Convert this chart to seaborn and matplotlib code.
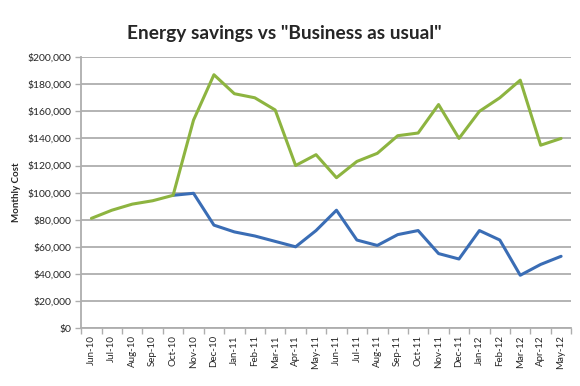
import matplotlib
matplotlib.use("Agg")
import matplotlib.pyplot as plt
import seaborn as sns
import pandas as pd
import numpy as np
from matplotlib.ticker import FuncFormatter, FixedLocator

months = ["Jun-10", "Jul-10", "Aug-10", "Sep-10", "Oct-10", "Nov-10", "Dec-10",
          "Jan-11", "Feb-11", "Mar-11", "Apr-11", "May-11", "Jun-11", "Jul-11",
          "Aug-11", "Sep-11", "Oct-11", "Nov-11", "Dec-11", "Jan-12", "Feb-12",
          "Mar-12", "Apr-12", "May-12"]
business_as_usual = [81000, 87000, 91500, 94000, 98000, 153500, 187000, 173000,
                     170000, 161000, 120000, 128000, 111000, 123000, 129000, 142000,
                     144000, 165000, 140000, 160000, 170000, 183000, 135000, 140000]
# first months coincide with "business as usual" (hidden under the green line)
energy_savings = [np.nan, np.nan, np.nan, np.nan, 98000, 99500, 76000, 71000,
                  68000, 64000, 60000, 72000, 87000, 65000, 61000, 69000,
                  72000, 55000, 51000, 72000, 65000, 39000, 47000, 53000]

df = pd.DataFrame({"Month": months, "BAU": business_as_usual, "Savings": energy_savings})

sns.set_theme(style="white")
plt.rcParams['font.family'] = ['Lato', 'DejaVu Sans']

fig = plt.figure(figsize=(5.8, 3.86), dpi=100)
ax = fig.add_axes([0.140, 0.150, 0.845, 0.702])

sns.lineplot(data=df, x="Month", y="Savings", sort=False, color="#3A6DB5", linewidth=2.2, ax=ax, zorder=3)
sns.lineplot(data=df, x="Month", y="BAU", sort=False, color="#8DB440", linewidth=2.2, ax=ax, zorder=4)

ax.set_ylim(0, 200000)
ax.set_xlim(-0.5, len(months) - 0.5)
ax.set_yticks(np.arange(0, 200001, 20000))
ax.yaxis.set_major_formatter(FuncFormatter(lambda v, p: "$0" if v == 0 else f"${v:,.0f}"))
ax.grid(axis="y", color="#AEAEAE", linewidth=1.3)
ax.set_axisbelow(True)

ax.set_xticks(range(len(months)))
ax.set_xticklabels(months, rotation=90, fontsize=7)
ax.xaxis.set_minor_locator(FixedLocator(np.arange(-0.5, len(months), 1.0)))
ax.tick_params(axis="x", which="major", length=0, pad=5)
ax.tick_params(axis="x", which="minor", length=4, color="#AEAEAE", width=1, direction="out")
ax.tick_params(axis="y", length=4, color="#AEAEAE", width=1, direction="out", labelsize=7.5, pad=3)
ax.xaxis.set_tick_params(bottom=True, which="minor")
ax.yaxis.set_tick_params(left=True)

for s in ["top", "right"]:
    ax.spines[s].set_visible(False)
ax.spines["left"].set_color("#AEAEAE")
ax.spines["left"].set_linewidth(1.3)
ax.spines["bottom"].set_color("#AEAEAE")
ax.spines["bottom"].set_linewidth(1.3)

ax.set_xlabel("")
ax.set_ylabel("Monthly Cost", fontsize=7, fontweight="bold", labelpad=5)
fig.suptitle('Energy savings vs "Business as usual"', fontsize=13.8, fontweight="bold", x=0.49, y=0.935)

fig.savefig("out.png", dpi=100, facecolor="white")
